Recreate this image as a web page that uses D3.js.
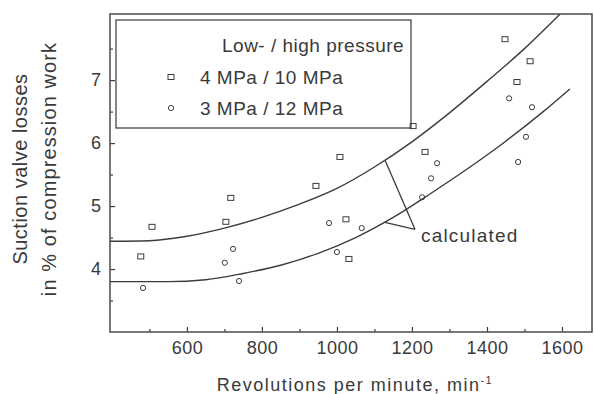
<!DOCTYPE html>
<html>
<head>
<meta charset="utf-8">
<script src="https://cdn.jsdelivr.net/npm/d3@7"></script>
<style>
  body { margin: 0; background: #fff; }
  text { font-family: "Liberation Sans", Arial, Helvetica, sans-serif; fill: #3a3a3a; }
</style>
</head>
<body>
<svg id="chart" width="594" height="394"></svg>
<script>
// Measured suction valve losses, 4 MPa / 10 MPa (squares)
const rpmSquare  = [477, 507, 704, 717, 944, 1008, 1024, 1032, 1203, 1235, 1448, 1480, 1515];
const lossSquare = [4.20, 4.67, 4.75, 5.13, 5.32, 5.78, 4.79, 4.16, 6.27, 5.86, 7.65, 6.97, 7.30];

// Measured suction valve losses, 3 MPa / 12 MPa (circles)
const rpmCircle  = [483, 701, 723, 739, 979, 1000, 1066, 1227, 1251, 1267, 1459, 1483, 1504, 1520];
const lossCircle = [3.70, 4.10, 4.32, 3.81, 4.73, 4.27, 4.65, 5.14, 5.44, 5.68, 6.71, 5.70, 6.10, 6.57];

// Calculated curves
const rpmCalcUpper  = [395, 500, 600, 700, 800, 900, 1000, 1100, 1200, 1300, 1400, 1500, 1595];
const lossCalcUpper = [4.44, 4.45, 4.52, 4.65, 4.82, 5.03, 5.28, 5.62, 6.02, 6.48, 6.98, 7.50, 8.05];
const rpmCalcLower  = [395, 550, 650, 750, 850, 950, 1050, 1150, 1250, 1350, 1450, 1550, 1621];
const lossCalcLower = [3.80, 3.80, 3.83, 3.93, 4.06, 4.25, 4.50, 4.82, 5.20, 5.60, 6.03, 6.50, 6.86];

// Callout for the calculated curves: two legs meeting at the tip
const calloutRpm  = [1128, 1128];
const calloutLoss = [5.73, 4.74];
const calloutTip  = [1208, 4.63];
const calloutText = "calculated";

// Axes
const xMajorTicks = [600, 800, 1000, 1200, 1400, 1600];
const xMinorTicks = [500, 700, 900, 1100, 1300, 1500];
const yMajorTicks = [4, 5, 6, 7];
const yMinorTicks = [3.5, 4.5, 5.5, 6.5, 7.5];
const xTitle = "Revolutions per minute, min";
const xTitleSup = "-1";
const yTitleLines = ["Suction valve losses", "in % of compression work"];

// Legend
const legendTitle = "Low- / high pressure";
const legendLabels = ["4 MPa / 10 MPa", "3 MPa / 12 MPa"];

const svg = d3.select("#chart");
const ink = "#3c3c3c";

const x = d3.scaleLinear().domain([395, 1680]).range([110, 592]);
const y = d3.scaleLinear().domain([3, 8.05]).range([332, 14]);

const plot = svg.append("g");

// clip curves to the frame
svg.append("defs").append("clipPath").attr("id", "frameClip")
  .append("rect")
  .attr("x", x(395)).attr("y", y(8.05))
  .attr("width", x(1680) - x(395)).attr("height", y(3) - y(8.05));

// axes with inward ticks
function styleAxis(g) {
  g.select(".domain").remove();
  g.selectAll(".tick line").attr("stroke", ink).attr("stroke-width", 1.2);
  g.selectAll(".tick text").attr("fill", "#3a3a3a").attr("font-family", '"Liberation Sans", Arial, sans-serif');
}

plot.append("g")
  .attr("transform", `translate(0,${y(3)})`)
  .call(d3.axisBottom(x).tickValues(xMajorTicks).tickSize(-5).tickPadding(9).tickFormat(d3.format("d")))
  .call(styleAxis)
  .call(g => g.selectAll(".tick text").attr("font-size", 18).attr("letter-spacing", 0.5));

plot.append("g")
  .attr("transform", `translate(0,${y(3)})`)
  .call(d3.axisBottom(x).tickValues(xMinorTicks).tickSize(-3).tickFormat(""))
  .call(styleAxis);

plot.append("g")
  .attr("transform", `translate(${x(395)},0)`)
  .call(d3.axisLeft(y).tickValues(yMajorTicks).tickSize(-5).tickPadding(9).tickFormat(d3.format("d")))
  .call(styleAxis)
  .call(g => g.selectAll(".tick text").attr("font-size", 18));

plot.append("g")
  .attr("transform", `translate(${x(395)},0)`)
  .call(d3.axisLeft(y).tickValues(yMinorTicks).tickSize(-3).tickFormat(""))
  .call(styleAxis);

// frame
plot.append("rect")
  .attr("x", x(395)).attr("y", y(8.05))
  .attr("width", x(1680) - x(395)).attr("height", y(3) - y(8.05))
  .attr("fill", "none").attr("stroke", "#555").attr("stroke-width", 1.6);

// legend box
const legend = svg.append("g");
legend.append("rect")
  .attr("x", 116).attr("y", 20).attr("width", 295).attr("height", 108)
  .attr("fill", "#fff").attr("stroke", "#555").attr("stroke-width", 1.4);
legend.append("text")
  .attr("x", 222).attr("y", 52)
  .attr("font-size", 19).attr("letter-spacing", 0.5)
  .text(legendTitle);
legendLabels.forEach((lab, i) => {
  const cy = 77 + i * 31;
  if (i === 0) {
    legend.append("rect").attr("x", 168).attr("y", cy - 2.5).attr("width", 6).attr("height", 5)
      .attr("fill", "none").attr("stroke", ink).attr("stroke-width", 1);
  } else {
    legend.append("circle").attr("cx", 171).attr("cy", cy).attr("r", 2.6)
      .attr("fill", "none").attr("stroke", ink).attr("stroke-width", 1);
  }
  legend.append("text")
    .attr("x", 200).attr("y", cy + 7)
    .attr("font-size", 19).attr("letter-spacing", 0.5)
    .text(lab);
});

// calculated curves
const line = d3.line().x(d => x(d[0])).y(d => y(d[1])).curve(d3.curveMonotoneX);
const curves = [
  d3.zip(rpmCalcUpper, lossCalcUpper),
  d3.zip(rpmCalcLower, lossCalcLower)
];
const curveG = svg.append("g").attr("clip-path", "url(#frameClip)");
curveG.selectAll("path.calc").data(curves).join("path")
  .attr("class", "calc")
  .attr("d", line)
  .attr("fill", "none").attr("stroke", ink).attr("stroke-width", 1.4);

// callout legs
const callout = svg.append("g");
d3.zip(calloutRpm, calloutLoss).forEach(p => {
  callout.append("line")
    .attr("x1", x(p[0])).attr("y1", y(p[1]))
    .attr("x2", x(calloutTip[0])).attr("y2", y(calloutTip[1]))
    .attr("stroke", ink).attr("stroke-width", 1.3);
});
callout.append("text")
  .attr("x", x(calloutTip[0]) + 6).attr("y", y(calloutTip[1]) + 13)
  .attr("font-size", 19).attr("letter-spacing", 1.2)
  .text(calloutText);

// measured points
const pts = svg.append("g");
pts.selectAll("rect.sq").data(d3.zip(rpmSquare, lossSquare)).join("rect")
  .attr("class", "sq")
  .attr("x", d => x(d[0]) - 3).attr("y", d => y(d[1]) - 2.5)
  .attr("width", 6).attr("height", 5)
  .attr("fill", "none").attr("stroke", ink).attr("stroke-width", 1);
pts.selectAll("circle.ci").data(d3.zip(rpmCircle, lossCircle)).join("circle")
  .attr("class", "ci")
  .attr("cx", d => x(d[0])).attr("cy", d => y(d[1])).attr("r", 2.6)
  .attr("fill", "none").attr("stroke", ink).attr("stroke-width", 1);

// axis titles
const xt = svg.append("text")
  .attr("x", 355).attr("y", 391)
  .attr("text-anchor", "middle")
  .attr("font-size", 18).attr("letter-spacing", 1.5);
xt.append("tspan").text(xTitle);
xt.append("tspan").attr("font-size", 11).attr("dy", -7).text(xTitleSup);

const yt = svg.append("g").attr("transform", "translate(0,169) rotate(-90)");
const ySpacing = [0.5, 1.1];
yTitleLines.forEach((t, i) => {
  yt.append("text")
    .attr("x", 0).attr("y", 27 + i * 29)
    .attr("text-anchor", "middle")
    .attr("font-size", 20).attr("letter-spacing", ySpacing[i])
    .text(t);
});
</script>
</body>
</html>
